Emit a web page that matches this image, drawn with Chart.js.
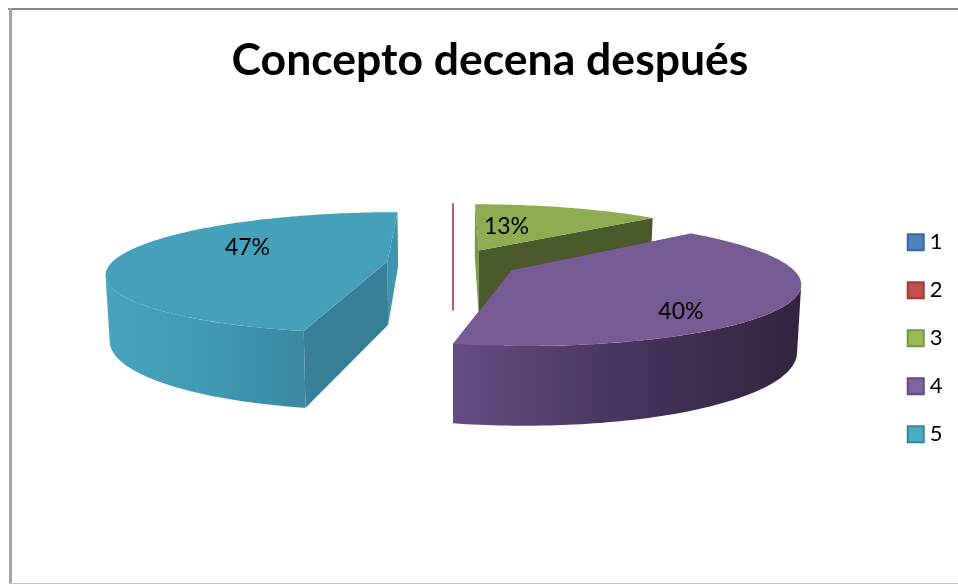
<!DOCTYPE html>
<html lang="es">
<head>
<meta charset="utf-8">
<title>Concepto decena después</title>
<style>
	html, body { margin: 0; padding: 0; background: #ffffff; overflow: hidden; }
	canvas { display: block; }
</style>
<script src="https://cdn.jsdelivr.net/npm/chart.js@4"></script>
</head>
<body>
<canvas id="pie" width="958" height="584"></canvas>
<script>
const categories = ['1', '2', '3', '4', '5'];
const counts = [0, 0, 2, 6, 7];
const chartTitle = 'Concepto decena después';

const legendFill = ['#4f81bd', '#c0504d', '#9bbb59', '#8064a2', '#4bacc6'];
const legendBorder = ['#3a679c', '#9c3b39', '#7a9444', '#5f4a80', '#3587a0'];
const topColors = ['#4f81bd', '#b85c5c', '#8fac52', '#775b95', '#45a0b9'];
// pared curva: izquierda, centro, derecha
const rimColors = [
	['#4f81bd', '#4f81bd', '#4f81bd'],
	['#b85c5c', '#b85c5c', '#b85c5c'],
	['#4a5a2a', '#4a5a2a', '#4a5a2a'],
	['#654d82', '#46345c', '#322540'],
	['#48a3bd', '#419ab3', '#3a88a2'],
];
// paredes radiales: borde inicial y borde final de cada sector
const sideColors = [
	['#4f81bd', '#4f81bd'],
	['#b85c5c', '#b85c5c'],
	['#7a9a45', '#4a5a2a'],
	['#5a4475', '#5a4475'],
	['#367f97', '#3f95ad'],
];
// radio relativo y giro en grados de cada etiqueta de porcentaje
const labelRadius = [0, 0, 0.5, 0.785, 0.6];
const labelTurn = [0, 0, -10, 19.5, 19];

// proyección en perspectiva del plano de la tarta
const view = { x0: 453, y0: 263, a: 276, b: 58.9, p: 0.1826, depth: 63.5, explode: 0.24, taper: 0.012 };

function project(u, v, h) {
	const w = 1 - view.p * v;
	return {
		x: view.x0 + ((view.a * u) / w) * (1 - view.taper * h),
		y: view.y0 + (view.b * v) / w + (view.depth * h) / w,
	};
}

// punto del sector: theta medido desde las 12 en sentido horario
function slicePoint(theta, r, mid, h) {
	const u = Math.sin(mid) * view.explode + Math.sin(theta) * r;
	const v = -Math.cos(mid) * view.explode - Math.cos(theta) * r;
	return project(u, v, h);
}

function tracePath(ctx, pts) {
	ctx.beginPath();
	pts.forEach((p, i) => (i ? ctx.lineTo(p.x, p.y) : ctx.moveTo(p.x, p.y)));
	ctx.closePath();
}

function rimPoints(from, to, mid, h) {
	const steps = Math.max(2, Math.ceil((to - from) / 0.02));
	const pts = [];
	for (let i = 0; i <= steps; i++) {
		pts.push(slicePoint(from + ((to - from) * i) / steps, 1, mid, h));
	}
	return pts;
}

// ángulo del borde más a la derecha (o izquierda) de la silueta
function silhouetteAngle(from, to, mid, sign) {
	let best = from;
	for (let t = from; t <= to; t += 0.01) {
		if (sign * slicePoint(t, 1, mid, 0).x > sign * slicePoint(best, 1, mid, 0).x) best = t;
	}
	return best;
}

function drawSlice(ctx, start, end, i) {
	const mid = (start + end) / 2;

	// sector de valor cero: solo queda visible su pared
	if (end - start < 1e-6) {
		const a = slicePoint(start, 1, mid, 0);
		const b = slicePoint(start, 0, mid, 1);
		ctx.strokeStyle = topColors[i];
		ctx.lineWidth = 2;
		ctx.beginPath();
		ctx.moveTo(a.x, a.y);
		ctx.lineTo(a.x, b.y);
		ctx.stroke();
		return;
	}

	// paredes radiales, primero la más lejana
	const sides = [
		{ theta: start, color: sideColors[i][0] },
		{ theta: end, color: sideColors[i][1] },
	].sort((p, q) => Math.cos(q.theta) - Math.cos(p.theta));
	sides.forEach((s) => {
		tracePath(ctx, [
			slicePoint(s.theta, 0, mid, 0),
			slicePoint(s.theta, 1, mid, 0),
			slicePoint(s.theta, 1, mid, 1),
			slicePoint(s.theta, 0, mid, 1),
		]);
		ctx.fillStyle = s.color;
		ctx.fill();
	});

	// pared curva, solo la parte que mira hacia delante
	const from = Math.max(start, silhouetteAngle(0, Math.PI, mid, 1));
	const to = Math.min(end, silhouetteAngle(Math.PI, 2 * Math.PI, mid, -1));
	if (to > from) {
		const upper = rimPoints(from, to, mid, 0);
		const lower = rimPoints(from, to, mid, 1).reverse();
		const xs = upper.map((p) => p.x);
		const grad = ctx.createLinearGradient(Math.min(...xs), 0, Math.max(...xs), 0);
		rimColors[i].forEach((c, k) => grad.addColorStop(k / 2, c));
		tracePath(ctx, upper.concat(lower));
		ctx.fillStyle = grad;
		ctx.fill();
	}

	// cara superior
	tracePath(ctx, [slicePoint(start, 0, mid, 0)].concat(rimPoints(start, end, mid, 0)));
	ctx.fillStyle = topColors[i];
	ctx.fill();
}

const pie3d = {
	id: 'pie3d',
	// sustituye el dibujo plano de los arcos
	beforeDatasetsDraw(chart) {
		const { ctx } = chart;
		const arcs = chart.getDatasetMeta(0).data;
		const total = counts.reduce((a, b) => a + b, 0);
		const angles = arcs.map((arc) => {
			const { startAngle, endAngle } = arc.getProps(['startAngle', 'endAngle'], true);
			return [startAngle + Math.PI / 2, endAngle + Math.PI / 2];
		});
		ctx.save();
		[0, 1, 2, 4, 3].forEach((i) => drawSlice(ctx, angles[i][0], angles[i][1], i));

		ctx.fillStyle = '#000000';
		ctx.font = '23px Lato';
		ctx.textAlign = 'center';
		ctx.textBaseline = 'middle';
		counts.forEach((value, i) => {
			if (!value) return;
			const mid = (angles[i][0] + angles[i][1]) / 2;
			const theta = mid + (labelTurn[i] * Math.PI) / 180;
			const p = slicePoint(theta, labelRadius[i], mid, 0);
			ctx.fillText(Math.round((value / total) * 100) + '%', p.x, p.y);
		});
		ctx.restore();
		return false;
	},
};

// marco gris del área del gráfico
const chartFrame = {
	id: 'chartFrame',
	beforeDraw(chart) {
		const { ctx, width, height } = chart;
		ctx.save();
		ctx.fillStyle = '#868686';
		ctx.fillRect(8, 8, width - 8, 2);
		ctx.fillStyle = '#a3a3a3';
		ctx.fillRect(9, 8, 3, height - 8);
		ctx.fillStyle = '#c4c4c4';
		ctx.fillRect(9, height - 1, width - 9, 1);
		ctx.restore();
	},
};

new Chart(document.getElementById('pie'), {
	type: 'pie',
	data: {
		labels: categories,
		datasets: [
			{
				data: counts,
				backgroundColor: legendFill,
				borderColor: legendBorder,
				borderWidth: 2,
			},
		],
	},
	options: {
		responsive: false,
		animation: false,
		layout: { padding: { left: 27.5, right: 5.5, top: 0, bottom: 0 } },
		plugins: {
			tooltip: { enabled: false },
			title: {
				display: true,
				text: chartTitle,
				color: '#000000',
				font: { family: 'Lato', weight: 'bold', size: 44.5 },
				padding: { top: 34, bottom: 5 },
			},
			legend: {
				position: 'right',
				fullSize: false,
				labels: {
					color: '#000000',
					font: { family: 'Lato', size: 22 },
					usePointStyle: true,
					pointStyle: 'rect',
					boxWidth: 6,
					boxHeight: 16,
					padding: 26,
				},
			},
		},
	},
	plugins: [chartFrame, pie3d],
});
</script>
</body>
</html>
